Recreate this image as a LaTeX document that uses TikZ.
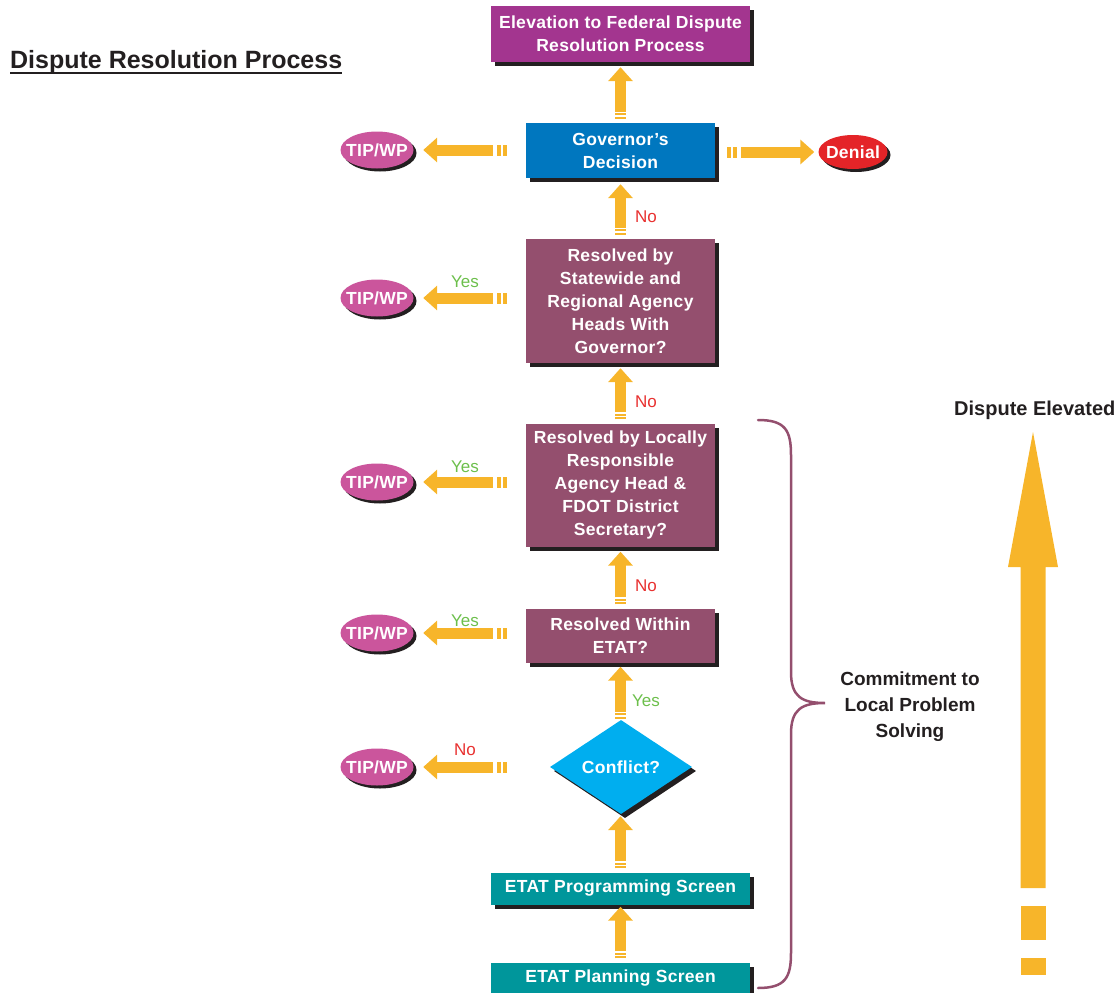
\documentclass[tikz,border=0pt]{standalone}
\usepackage{fontspec}
\setmainfont{Liberation Sans}
\usetikzlibrary{shapes.geometric,arrows.meta,calc,shadows}
\definecolor{arrowc}{HTML}{F7B52A}
\definecolor{mauvec}{HTML}{944F6E}
\definecolor{elevc}{HTML}{A3358F}
\definecolor{govc}{HTML}{0077BF}
\definecolor{diamc}{HTML}{00AEEF}
\definecolor{tealc}{HTML}{00969B}
\definecolor{pinkc}{HTML}{CB559C}
\definecolor{denialc}{HTML}{E42428}
\definecolor{shadowc}{HTML}{231F20}
\definecolor{yesc}{HTML}{6CBF4B}
\definecolor{noc}{HTML}{E8302F}
\newcommand\bxfont{\fontsize{17.5}{23}\selectfont\bfseries\addfontfeature{LetterSpace=1.8}}
\newcommand\ovfont{\fontsize{17.5}{20}\selectfont\bfseries\addfontfeature{LetterSpace=1.5}}
\newcommand\lblfont{\fontsize{17}{20}\selectfont}
\newcommand\harr[2]{%
  \draw[tailbar] (#1) -- ($(#1)!4pt!(#2)$);
  \draw[tailbar] ($(#1)!6pt!(#2)$) -- ($(#1)!10pt!(#2)$);
  \draw[fat] ($(#1)!14pt!(#2)$) -- (#2);}
\newcommand\varr[2]{%
  \draw[tailbar] (#1) -- ($(#1)!2pt!(#2)$);
  \draw[tailbar] ($(#1)!3.5pt!(#2)$) -- ($(#1)!5.5pt!(#2)$);
  \draw[fat] ($(#1)!7pt!(#2)$) -- (#2);}
\begin{document}
\begin{tikzpicture}[x=1pt,y=-1pt,
  box/.style={rectangle, inner sep=0pt, text=white, font=\bxfont, align=center,
    general shadow={fill=shadowc, shadow xshift=4pt, shadow yshift=-4pt}},
  oval/.style={ellipse, inner sep=0pt, text=white, font=\ovfont,
    general shadow={fill=shadowc, shadow xshift=3pt, shadow yshift=-3pt}},
  lbl/.style={font=\lblfont, inner sep=0pt},
  tailbar/.style={draw=arrowc, line width=11pt, line cap=butt},
  fat/.style={draw=arrowc, line width=11pt, line cap=butt,
    -{Triangle[width=24pt,length=14pt]}, arrowc},
  brace/.style={draw=mauvec, line width=2.5pt, line cap=round}]
\useasboundingbox (0,0) rectangle (1120,993);
% title
\node[font=\fontsize{25}{28}\selectfont\bfseries, text=shadowc, anchor=base west, inner sep=0pt] (title) at (10,68) {Dispute Resolution Process};
\draw[shadowc, line width=2.5pt] ($(title.base west)+(0,4.8)$) -- ($(title.base east)+(0,4.8)$);
% boxes
\node[box, fill=elevc, minimum width=259pt, minimum height=56pt] (elev) at (620.5,34) {Elevation to Federal Dispute\\Resolution Process};
\node[box, fill=govc, minimum width=189pt, minimum height=55pt] (gov) at (620.5,150.5) {Governor’s\\Decision};
\node[box, fill=mauvec, minimum width=189pt, minimum height=124pt] (state) at (620.5,301) {Resolved by\\Statewide and\\Regional Agency\\Heads With\\Governor?};
\node[box, fill=mauvec, minimum width=189pt, minimum height=123pt] (local) at (620.5,485) {Resolved by Locally\\Responsible\\Agency Head \&\\FDOT District\\Secretary?};
\node[box, fill=mauvec, minimum width=189pt, minimum height=54pt] (within) at (620.5,635.5) {Resolved Within\\ETAT?};
\node[box, diamond, fill=diamc, minimum width=142pt, minimum height=94pt] (conf) at (621,767) {Conflict?};
\node[box, fill=tealc, minimum width=259pt, minimum height=32pt] (prog) at (620.5,888.5) {ETAT Programming Screen};
\node[box, fill=tealc, minimum width=259pt, minimum height=32pt] (plan) at (620.5,978.5) {ETAT Planning Screen};
% ovals
\node[oval, fill=pinkc, minimum width=73pt, minimum height=37pt] (tip1) at (377,150) {\makebox[0pt]{TIP/WP}};
\node[oval, fill=pinkc, minimum width=73pt, minimum height=37pt] (tip2) at (377,298) {\makebox[0pt]{TIP/WP}};
\node[oval, fill=pinkc, minimum width=73pt, minimum height=37pt] (tip3) at (377,482) {\makebox[0pt]{TIP/WP}};
\node[oval, fill=pinkc, minimum width=73pt, minimum height=37pt] (tip4) at (377,633) {\makebox[0pt]{TIP/WP}};
\node[oval, fill=pinkc, minimum width=73pt, minimum height=37pt] (tip5) at (377,767) {\makebox[0pt]{TIP/WP}};
\node[oval, fill=denialc, minimum width=69pt, minimum height=34pt] (denial) at (853,152) {\makebox[0pt]{Denial}};
% vertical arrows
\coordinate (a1t) at ($(gov.north)+(0,-4)$);   \coordinate (a1h) at ($(elev.south)+(0,5)$);
\coordinate (a2t) at ($(state.north)+(0,-4)$); \coordinate (a2h) at ($(gov.south)+(0,6)$);
\coordinate (a3t) at ($(local.north)+(0,-4)$); \coordinate (a3h) at ($(state.south)+(0,5)$);
\coordinate (a4t) at ($(within.north)+(0,-4)$);\coordinate (a4h) at ($(local.south)+(0,5)$);
\coordinate (a5t) at ($(conf.north)+(-0.5,-1)$); \coordinate (a5h) at ($(within.south)+(0,4)$);
\coordinate (a6t) at ($(prog.north)+(0,-4)$);  \coordinate (a6h) at ($(conf.south)+(-0.5,2)$);
\coordinate (a7t) at ($(plan.north)+(0,-4)$);  \coordinate (a7h) at ($(prog.south)+(0,2)$);
\varr{a1t}{a1h}\varr{a2t}{a2h}\varr{a3t}{a3h}\varr{a4t}{a4h}
\varr{a5t}{a5h}\varr{a6t}{a6h}\varr{a7t}{a7h}
% horizontal arrows
\foreach \i in {1,...,5}{
  \coordinate (h\i t) at ($(tip\i.east)+(93.5,0)$);
  \coordinate (h\i h) at ($(tip\i.east)+(9.5,0)$);
}
\harr{h1t}{h1h}\harr{h2t}{h2h}\harr{h3t}{h3h}\harr{h4t}{h4h}\harr{h5t}{h5h}
\coordinate (dt) at ($(denial.west)+(-91,0)$);
\coordinate (dh) at ($(denial.west)+(-4,0)$);
\harr{dt}{dh}
% labels
\node[lbl, text=noc] (no1) at (646,217) {No};
\node[lbl, text=noc] (no2) at (646,402) {No};
\node[lbl, text=noc] (no3) at (646,586) {No};
\node[lbl, text=yesc] (yes1) at (646,701) {Yes};
\node[lbl, text=yesc] (yes2) at (465,282) {Yes};
\node[lbl, text=yesc] (yes3) at (465,467) {Yes};
\node[lbl, text=yesc] (yes4) at (465,621) {Yes};
\node[lbl, text=noc] (no4) at (465,750) {No};
% brace
\draw[brace] (758,420) .. controls (785,420) and (791,430) .. (791,455) -- (791,672)
  .. controls (791,697) and (802,703) .. (825,703)
  .. controls (802,703) and (791,709) .. (791,734) -- (791,953)
  .. controls (791,978) and (785,988) .. (758,988);
\node[font=\fontsize{19}{26}\selectfont\bfseries, text=shadowc, align=center, inner sep=0pt] (commit) at (910,707) {Commitment to\\Local Problem\\Solving};
% dispute elevated
\node[font=\fontsize{20}{22}\selectfont\bfseries, text=shadowc, anchor=base west, inner sep=0pt] (elevated) at (954,415) {Dispute Elevated};
\fill[arrowc] (1033,432) -- (1058,567) -- (1045.5,567) -- (1045.5,888) -- (1020.5,888) -- (1020.5,567) -- (1008,567) -- cycle;
\fill[arrowc] (1020.5,906) rectangle (1045.5,940);
\fill[arrowc] (1020.5,958) rectangle (1045.5,975);
\end{tikzpicture}
\end{document}
